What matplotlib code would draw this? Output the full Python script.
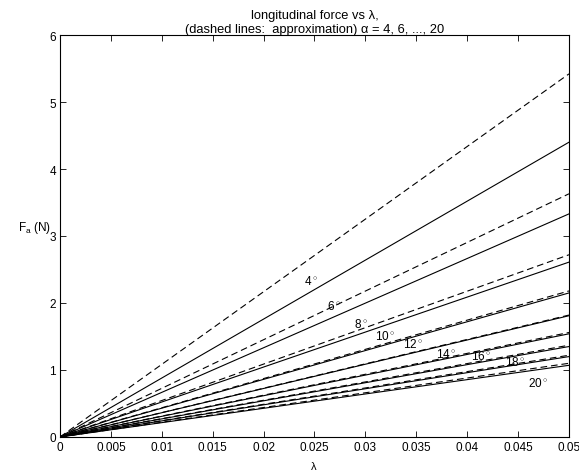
import matplotlib
matplotlib.use("Agg")
import matplotlib.pyplot as plt

plt.rcParams["font.family"] = ["Liberation Sans", "DejaVu Sans"]
plt.rcParams["mathtext.fontset"] = "custom"
plt.rcParams["mathtext.rm"] = "Liberation Sans"

# slip angles (deg) and force read at lambda = 0.05
ALPHAS = [4, 6, 8, 10, 12, 14, 16, 18, 20]
LAMBDA_END = 0.05
FORCE_EXACT = [4.40, 3.33, 2.61, 2.15, 1.81, 1.54, 1.35, 1.20, 1.07]
FORCE_APPROX = [5.42, 3.63, 2.72, 2.18, 1.82, 1.56, 1.37, 1.22, 1.10]
# label positions (lambda, force)
LABEL_X = [0.0247, 0.0269, 0.0296, 0.0320, 0.0347, 0.0379, 0.0414, 0.0447, 0.0470]
LABEL_Y = [2.34, 1.97, 1.70, 1.52, 1.39, 1.25, 1.21, 1.13, 0.81]

X_TICKS = [0, 0.005, 0.01, 0.015, 0.02, 0.025, 0.03, 0.035, 0.04, 0.045, 0.05]
X_TICKLABELS = ["0", "0.005", "0.01", "0.015", "0.02", "0.025", "0.03",
                "0.035", "0.04", "0.045", "0.05"]
Y_TICKS = [0, 1, 2, 3, 4, 5, 6]

fig = plt.figure(figsize=(5.79, 4.77), dpi=100)
ax = fig.add_axes([0.1036, 0.0818, 0.8791, 0.8427])

for f_exact, f_approx in zip(FORCE_EXACT, FORCE_APPROX):
    ax.plot([0, LAMBDA_END], [0, f_exact], color="black", lw=0.8)
    ax.plot([0, LAMBDA_END], [0, f_approx], color="black", lw=0.8,
            dashes=(6, 3.5))

for a, lx, ly in zip(ALPHAS, LABEL_X, LABEL_Y):
    ax.text(lx, ly, "{}$^\\circ$".format(a), fontsize=8.5, ha="center",
            va="center")

ax.set_xlim(0, 0.05)
ax.set_ylim(0, 6)
ax.set_xticks(X_TICKS)
ax.set_xticklabels(X_TICKLABELS)
ax.set_yticks(Y_TICKS)
ax.tick_params(direction="in", length=4, width=0.6, labelsize=8.5,
               top=True, right=True, pad=3)
for s in ax.spines.values():
    s.set_linewidth(0.8)

ax.set_title("longitudinal force vs \u03bb,\n(dashed lines:  approximation) "
             "\u03b1 = 4, 6, ..., 20", fontsize=9.3, linespacing=1.3, pad=2)
fig.text(0.541, 0.022, "\u03bb", fontsize=8, ha="center", va="center")
fig.text(0.06, 0.522, "F$_{\\rm a}$ (N)", fontsize=8.5, ha="center",
         va="center")

fig.savefig("out.png", dpi=100)
